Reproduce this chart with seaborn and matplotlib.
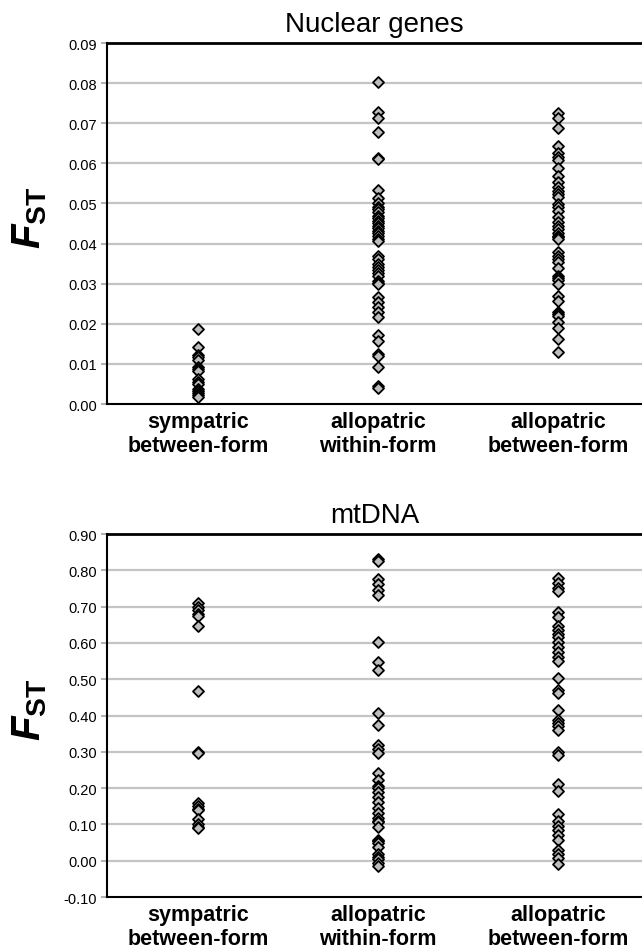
import numpy as np
import pandas as pd
import matplotlib
matplotlib.use('Agg')
import matplotlib.pyplot as plt
import seaborn as sns

categories = ['sympatric\nbetween-form', 'allopatric\nwithin-form', 'allopatric\nbetween-form']

# Nuclear genes FST
nuc_symp = [0.0187, 0.0143, 0.0122, 0.0116, 0.0109, 0.0092, 0.0087, 0.0083,
            0.0062, 0.0056, 0.0049, 0.0037, 0.0032, 0.0028, 0.0022, 0.0018]
nuc_allo_within = [0.0802, 0.0728, 0.0712, 0.0678, 0.0613, 0.0610, 0.0534, 0.0513,
                   0.0500, 0.0492, 0.0486, 0.0478, 0.0470, 0.0463, 0.0457, 0.0451,
                   0.0445, 0.0438, 0.0432, 0.0426, 0.0420, 0.0412, 0.0406, 0.0370,
                   0.0362, 0.0348, 0.0341, 0.0333, 0.0327, 0.0320, 0.0307, 0.0302,
                   0.0299, 0.0266, 0.0254, 0.0241, 0.0229, 0.0216, 0.0173, 0.0157,
                   0.0125, 0.0119, 0.0093, 0.0044, 0.0040]
nuc_allo_between = [0.0726, 0.0714, 0.0687, 0.0643, 0.0626, 0.0615, 0.0608, 0.0588,
                    0.0569, 0.0553, 0.0540, 0.0532, 0.0524, 0.0516, 0.0499, 0.0490,
                    0.0482, 0.0466, 0.0453, 0.0445, 0.0436, 0.0426, 0.0420, 0.0416,
                    0.0411, 0.0378, 0.0370, 0.0362, 0.0353, 0.0338, 0.0320, 0.0314,
                    0.0308, 0.0299, 0.0270, 0.0258, 0.0229, 0.0224, 0.0220, 0.0205,
                    0.0189, 0.0162, 0.0129]

# mtDNA FST
mt_symp = [0.709, 0.700, 0.690, 0.681, 0.673, 0.646, 0.467, 0.300, 0.296,
           0.160, 0.152, 0.143, 0.140, 0.115, 0.101, 0.094, 0.089]
mt_allo_within = [0.831, 0.826, 0.776, 0.762, 0.746, 0.733, 0.603, 0.548, 0.525,
                  0.406, 0.374, 0.319, 0.308, 0.297, 0.241, 0.223, 0.206, 0.200,
                  0.188, 0.175, 0.161, 0.144, 0.131, 0.117, 0.110, 0.106, 0.092,
                  0.058, 0.053, 0.049, 0.037, 0.018, 0.010, 0.004, -0.006, -0.015]
mt_allo_between = [0.778, 0.766, 0.752, 0.742, 0.685, 0.672, 0.646, 0.636, 0.625,
                   0.615, 0.602, 0.588, 0.576, 0.562, 0.550, 0.502, 0.470, 0.463,
                   0.415, 0.388, 0.380, 0.372, 0.360, 0.300, 0.290, 0.212, 0.191,
                   0.130, 0.110, 0.096, 0.085, 0.072, 0.058, 0.030, 0.018, 0.008,
                   -0.009]


def long_df(groups):
    rows = []
    for cat, vals in zip(categories, groups):
        for v in vals:
            rows.append((cat, v))
    return pd.DataFrame(rows, columns=['group', 'fst'])


sns.set_style('white')
plt.rcParams['font.family'] = ['Liberation Sans', 'DejaVu Sans']
plt.rcParams['text.color'] = 'black'
plt.rcParams['axes.labelcolor'] = 'black'
plt.rcParams['xtick.color'] = 'black'
plt.rcParams['ytick.color'] = 'black'
plt.rcParams['mathtext.fontset'] = 'custom'
plt.rcParams['mathtext.rm'] = 'Liberation Sans'
plt.rcParams['mathtext.bf'] = 'Liberation Sans:bold'
plt.rcParams['mathtext.bfit'] = 'Liberation Sans:bold:italic'

fig = plt.figure(figsize=(6.42, 9.53), dpi=100)
ax1 = fig.add_axes([0.1667, 0.575, 0.8333, 0.3788])
ax2 = fig.add_axes([0.1667, 0.0577, 0.8333, 0.3809])


def panel(ax, df, title, ymin, ymax, step):
    sns.stripplot(data=df, x='group', y='fst', order=categories, jitter=False,
                  marker='D', size=5.6, color='#bdbdbd', edgecolor='black',
                  linewidth=1.3, ax=ax, zorder=3)
    ticks = np.round(np.arange(ymin, ymax + step / 2, step), 4)
    ax.set_ylim(ymin, ymax)
    ax.set_yticks(ticks)
    ax.set_yticklabels(['%.2f' % t for t in ticks], fontsize=10.5)
    for t in ticks[1:-1]:
        ax.axhline(t, color='#c4c4c4', lw=1.6, zorder=1)
    ax.set_xlim(-0.505, 2.467)
    ax.set_xlabel('')
    ax.set_ylabel('')
    ax.set_xticks(range(3))
    ax.set_xticklabels(categories, fontsize=15.5, fontweight='bold', linespacing=1.18)
    ax.tick_params(axis='x', length=0, pad=5)
    ax.tick_params(axis='y', length=4, width=1.4, color='#b0b0b0', pad=3,
                   direction='out', left=True, labelcolor='black')
    ax.spines['right'].set_visible(False)
    for s in ['left', 'bottom']:
        ax.spines[s].set_color('black')
        ax.spines[s].set_linewidth(1.5)
    ax.spines['top'].set_color('black')
    ax.spines['top'].set_linewidth(2.0)
    ax.set_title(title, fontsize=20, pad=9, color='black')


panel(ax1, long_df([nuc_symp, nuc_allo_within, nuc_allo_between]), 'Nuclear genes', 0.0, 0.09, 0.01)
panel(ax2, long_df([mt_symp, mt_allo_within, mt_allo_between]), 'mtDNA', -0.1, 0.9, 0.1)

# F_ST axis labels
for ax in (ax1, ax2):
    bb = ax.get_position()
    yc = (bb.y0 + bb.y1) / 2
    fig.text(0.047, yc + 0.007, r'$\mathbfit{F}_{\mathbf{ST}}$', rotation=90, fontsize=29,
             ha='center', va='center')

fig.savefig('out.png', dpi=100)
